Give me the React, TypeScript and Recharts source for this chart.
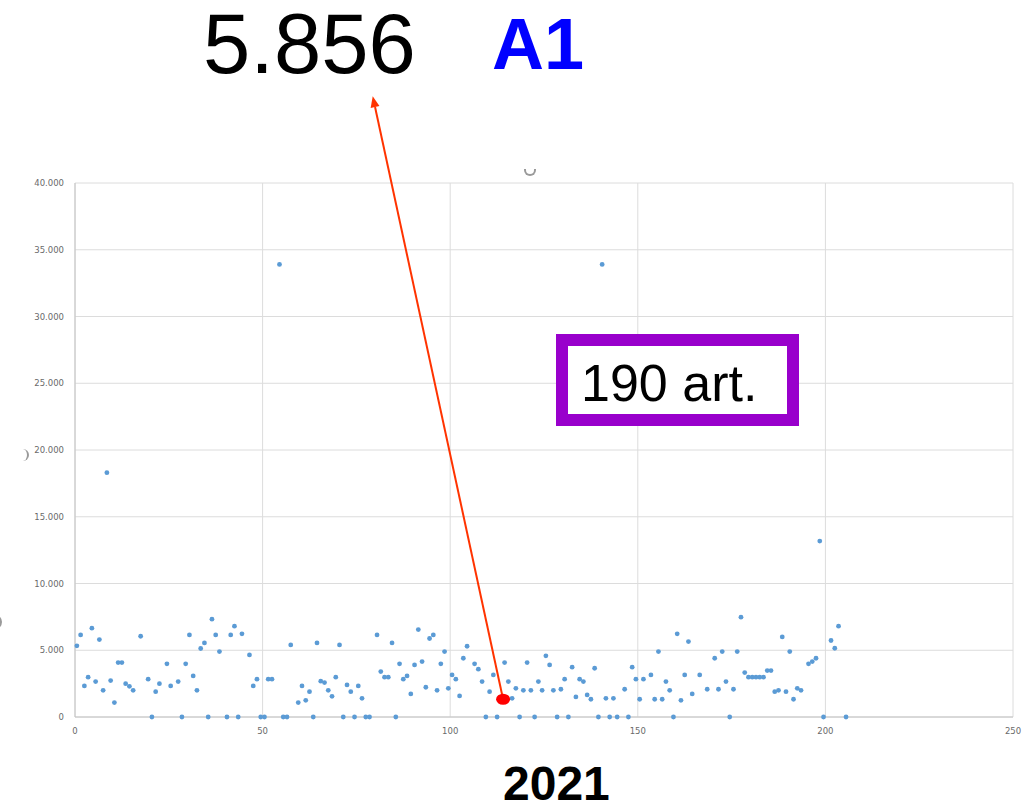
import React from 'react';
import { ScatterChart, Scatter, XAxis, YAxis, CartesianGrid, ReferenceLine } from 'recharts';

// article position on the x axis
const articleX = [
  0.5, 1.5, 2.5, 3.5, 4.5, 5.5, 6.5, 7.5, 8.5, 9.5, 10.5, 11.5, 12.5, 13.5, 14.5, 15.5, 17.5, 19.5, 20.5, 21.5,
  22.5, 24.5, 25.5, 27.5, 28.5, 29.5, 30.5, 31.5, 32.5, 33.5, 34.5, 35.5, 36.5, 37.5, 38.5, 40.5, 41.5, 42.5, 43.5, 44.5,
  46.5, 47.5, 48.5, 49.5, 50.5, 51.5, 52.5, 54.5, 55.5, 56.5, 57.5, 59.5, 60.5, 61.5, 62.5, 63.5, 64.5, 65.5, 66.5, 67.5,
  68.5, 69.5, 70.5, 71.5, 72.5, 73.5, 74.5, 75.5, 76.5, 77.5, 78.5, 80.5, 81.5, 82.5, 83.5, 84.5, 85.5, 86.5, 87.5, 88.5,
  89.5, 90.5, 91.5, 92.5, 93.5, 94.5, 95.5, 96.5, 97.5, 98.5, 99.5, 100.5, 101.5, 102.5, 103.5, 104.5, 106.5, 107.5, 108.5, 109.5,
  110.5, 111.5, 112.5, 114.5, 115.5, 116.5, 117.5, 118.5, 119.5, 120.5, 121.5, 122.5, 123.5, 124.5, 125.5, 126.5, 127.5, 128.5, 129.5, 130.5,
  131.5, 132.5, 133.5, 134.5, 135.5, 136.5, 137.5, 138.5, 139.5, 140.5, 141.5, 142.5, 143.5, 144.5, 146.5, 147.5, 148.5, 149.5, 150.5, 151.5,
  153.5, 154.5, 155.5, 156.5, 157.5, 158.5, 159.5, 160.5, 161.5, 162.5, 163.5, 164.5, 166.5, 168.5, 170.5, 171.5, 172.5, 173.5, 174.5, 175.5,
  176.5, 177.5, 178.5, 179.5, 180.5, 181.5, 182.5, 183.5, 184.5, 185.5, 186.5, 187.5, 188.5, 189.5, 190.5, 191.5, 192.5, 193.5, 195.5, 196.5,
  197.5, 198.5, 199.5, 201.5, 202.5, 203.5, 205.5,
];

// article value
const articleY = [
  5330, 6150, 2330, 2980, 6650, 2650, 5800, 2000, 18300, 2730, 1080, 4080, 4080, 2500, 2300, 2000, 6050, 2830, 0, 1900,
  2500, 3980, 2330, 2650, 0, 3980, 6150, 3080, 2000, 5130, 5550, 0, 7330, 6150, 4900, 0, 6150, 6800, 0, 6230,
  4650, 2330, 2830, 0, 0, 2830, 2830, 33900, 0, 0, 5400, 1080, 2330, 1250, 1900, 0, 5550, 2680, 2580, 2000,
  1550, 2980, 5400, 0, 2400, 1900, 0, 2330, 1400, 0, 0, 6150, 3400, 2980, 2980, 5550, 0, 3980, 2830, 3080,
  1730, 3900, 6550, 4150, 2230, 5880, 6150, 2000, 3980, 4900, 2150, 3150, 2830, 1580, 4400, 5300, 3980, 3580, 2650, 0,
  1900, 3150, 0, 4080, 2650, 1400, 2150, 0, 2000, 4080, 2000, 0, 2650, 2000, 4580, 3900, 2000, 0, 2080, 2830,
  0, 3730, 1500, 2830, 2650, 1650, 1330, 3650, 0, 33900, 1400, 0, 1400, 0, 2080, 0, 3730, 2830, 1330, 2830,
  3150, 1330, 4900, 1330, 2650, 2000, 0, 6230, 1250, 3150, 5650, 1730, 3150, 2080, 4400, 2080, 4900, 2650, 0, 2080,
  4900, 7480, 3330, 2980, 2980, 2980, 2980, 2980, 3480, 3480, 1900, 2000, 6000, 1900, 4900, 1330, 2150, 2000, 3980, 4150,
  4400, 13180, 0, 5730, 5150, 6800, 0,
];

const highlightX = [114.1];
const highlightY = [1330];

// arrow from highlighted article up to the "5.856" label
const arrowFrom = { x: 114.1, y: 1330 };
const arrowTo = { x: 79.35, y: 46500 };

const xTicks = [0, 50, 100, 150, 200, 250];
const yTicks = [0, 5000, 10000, 15000, 20000, 25000, 30000, 35000, 40000];

const points = articleX.map((x, i) => ({ x, y: articleY[i] }));
const highlight = highlightX.map((x, i) => ({ x, y: highlightY[i] }));

const fmtY = (v: number) => {
  if (v === 0) return '0';
  const th = Math.floor(v / 1000);
  const rest = v % 1000;
  return `${th}.${String(rest).padStart(3, '0')}`;
};

const Dot = (props: any) => <circle cx={props.cx} cy={props.cy} r={2.4} fill="#5b9bd5" />;
const RedDot = (props: any) => <ellipse cx={props.cx} cy={props.cy} rx={7} ry={5.5} fill="#ff0000" />;

const ArrowShape = (props: any) => {
  const { x1, y1, x2, y2 } = props;
  if ([x1, y1, x2, y2].some((v) => typeof v !== 'number' || isNaN(v))) return null;
  const dx = x2 - x1;
  const dy = y2 - y1;
  const len = Math.hypot(dx, dy) || 1;
  const ux = dx / len;
  const uy = dy / len;
  const headLen = 11;
  const headW = 4.5;
  const bx = x2 - ux * headLen;
  const by = y2 - uy * headLen;
  const px = -uy;
  const py = ux;
  return (
    <g>
      <line x1={x1} y1={y1} x2={bx} y2={by} stroke="#ff3300" strokeWidth={2} />
      <polygon
        points={`${x2},${y2} ${bx + px * headW},${by + py * headW} ${bx - px * headW},${by - py * headW}`}
        fill="#ff3300"
      />
    </g>
  );
};

const tickStyle = { fontSize: 8.5, fill: '#6a6a6a', fontFamily: 'DejaVu Sans' };

const textBase: React.CSSProperties = {
  position: 'absolute',
  fontFamily: 'Liberation Sans',
  lineHeight: 1.15,
  whiteSpace: 'nowrap',
};

export default function App() {
  return (
    <div style={{ position: 'absolute', left: 0, top: 0, width: 1025, height: 804, background: '#fff', overflow: 'hidden' }}>
      <ScatterChart width={1025} height={804} margin={{ top: 183, right: 12, bottom: 57, left: 10 }}>
        <CartesianGrid stroke="#dcdcdc" strokeWidth={1} />
        <XAxis
          type="number"
          dataKey="x"
          domain={[0, 250]}
          ticks={xTicks}
          height={30}
          tickLine={false}
          tickSize={9}
          tickMargin={2}
          axisLine={{ stroke: '#c4c4c4' }}
          tick={tickStyle}
          interval={0}
        />
        <YAxis
          type="number"
          dataKey="y"
          domain={[0, 40000]}
          ticks={yTicks}
          width={65}
          tickLine={false}
          tickSize={9}
          tickMargin={2}
          axisLine={{ stroke: '#c4c4c4' }}
          tick={tickStyle}
          tickFormatter={fmtY}
          interval={0}
        />
        <Scatter data={points} shape={Dot} isAnimationActive={false} />
        <ReferenceLine segment={[arrowFrom, arrowTo]} ifOverflow="visible" shape={ArrowShape} />
        <Scatter data={highlight} shape={RedDot} isAnimationActive={false} />
      </ScatterChart>

      {/* annotations */}
      <div style={{ ...textBase, left: 203, top: -5, fontSize: 85, color: '#000' }}>5.856</div>
      <div style={{ ...textBase, left: 492, top: 3, fontWeight: 'bold', fontSize: 72, color: '#0000ff' }}>A1</div>
      <div
        style={{
          position: 'absolute',
          left: 556,
          top: 334,
          width: 243,
          height: 92,
          boxSizing: 'border-box',
          border: '12px solid #9900cc',
          background: '#fff',
        }}
      />
      <div style={{ ...textBase, left: 581, top: 354, fontSize: 52, color: '#000' }}>190 art.</div>
      <div style={{ ...textBase, left: 503, top: 756, fontWeight: 'bold', fontSize: 48, color: '#000' }}>2021</div>

      {/* small selection-handle remnants */}
      <div style={{ position: 'absolute', left: 524, top: 169, width: 12, height: 7, boxSizing: 'border-box', border: '2px solid #9a9a9a', borderTop: 'none', borderRadius: '0 0 7px 7px' }} />
      <div style={{ position: 'absolute', left: 22, top: 449, width: 7, height: 12, boxSizing: 'border-box', borderRight: '2px solid #9a9a9a', borderRadius: '0 7px 7px 0' }} />
      <div style={{ position: 'absolute', left: -6, top: 614, width: 8, height: 16, boxSizing: 'border-box', borderRight: '2px solid #9a9a9a', borderRadius: '0 8px 8px 0' }} />
    </div>
  );
}
